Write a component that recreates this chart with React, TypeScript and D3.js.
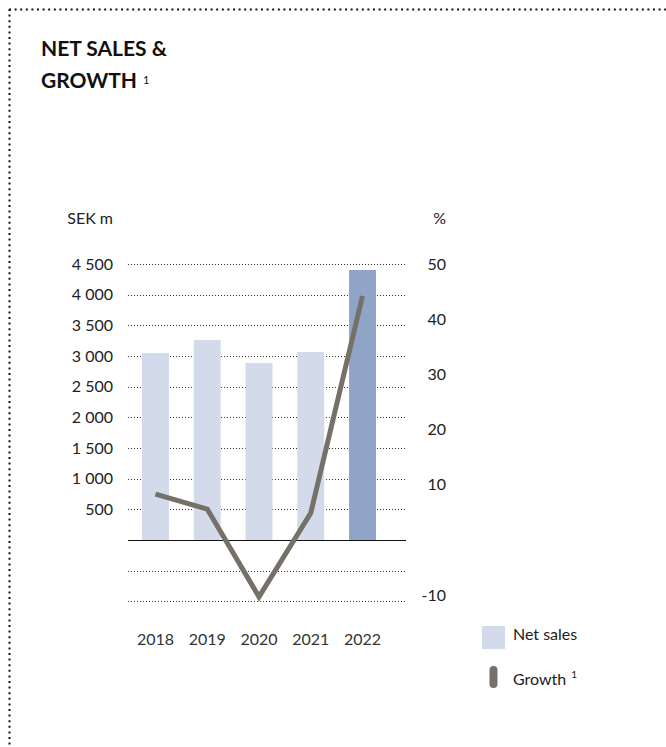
import React from "react";
import * as d3 from "d3";

const years = ["2018", "2019", "2020", "2021", "2022"];
const netSales = [3049, 3261, 2886, 3065, 4402];
const growth = [8.3, 5.6, -10.3, 4.9, 44.2];
const leftTicks = [500, 1000, 1500, 2000, 2500, 3000, 3500, 4000, 4500];
const gridValues = [-1000, -500, 500, 1000, 1500, 2000, 2500, 3000, 3500, 4000, 4500];
const rightTicks = [-10, 10, 20, 30, 40, 50];

const FONT = "Lato, 'Open Sans', sans-serif";

export default function App() {
  const W = 666, H = 747;
  const x0 = 128, x1 = 406;
  const yL = d3.scaleLinear().domain([0, 4500]).range([540, 264]);
  const yR = d3.scaleLinear().domain([0, 50]).range([540, 264]);
  const x = d3.scaleBand<string>().domain(years).range([129.6, 388.4]).paddingInner(0.48).paddingOuter(0.24);
  const fmt = (v: number) => d3.format(",")(v).replace(/,/g, " ");
  const line = d3.line<number>()
    .x((_, i) => (x(years[i]) as number) + x.bandwidth() / 2)
    .y((d) => yR(d));

  return (
    <svg width={W} height={H} style={{ position: "absolute", left: 0, top: 0 }} fontFamily={FONT}>
      <rect width={W} height={H} fill="#fff" />
      {/* dotted frame */}
      <line x1={9} y1={9.5} x2={W} y2={9.5} stroke="#111" strokeWidth={2} strokeDasharray="2 3.6" />
      <line x1={9.5} y1={9} x2={9.5} y2={H} stroke="#111" strokeWidth={2} strokeDasharray="2 3.6" />

      {/* title */}
      <text x={41} y={56} fontSize={21} fontWeight={700} fill="#111">NET SALES &amp;</text>
      <text x={41} y={88} fontSize={21} fontWeight={700} fill="#111">
        GROWTH<tspan dx={6} dy={-4.5} fontSize={11} fontWeight={400}>1</tspan>
      </text>

      {/* axis titles */}
      <text x={113} y={224} fontSize={16} textAnchor="end" fill="#222">SEK m</text>
      <text x={446} y={224} fontSize={16} textAnchor="end" fill="#222">%</text>

      {/* gridlines */}
      {gridValues.map((v) => (
        <line key={v} x1={x0} x2={x1} y1={Math.round(yL(v)) + 0.5} y2={Math.round(yL(v)) + 0.5}
          stroke="#333" strokeWidth={1} strokeDasharray="1 2" />
      ))}

      {/* left ticks */}
      {leftTicks.map((v) => (
        <text key={v} x={113} y={yL(v) + 5.5} fontSize={16} textAnchor="end" fill="#222">{fmt(v)}</text>
      ))}
      {/* right ticks */}
      {rightTicks.map((v) => (
        <text key={v} x={446} y={yR(v) + 5.5} fontSize={16} textAnchor="end" fill="#222">{v}</text>
      ))}

      {/* bars */}
      {netSales.map((v, i) => (
        <rect key={years[i]} x={x(years[i])} width={x.bandwidth()} y={yL(v)} height={yL(0) - yL(v)}
          fill={i === netSales.length - 1 ? "#8fa4c6" : "#d3dae9"} />
      ))}

      {/* zero axis */}
      <line x1={x0} x2={x1} y1={540.5} y2={540.5} stroke="#111" strokeWidth={1} />

      {/* growth line */}
      <path d={line(growth) || ""} fill="none" stroke="#757169" strokeWidth={5} strokeLinejoin="miter" />

      {/* x labels */}
      {years.map((yr) => (
        <text key={yr} x={(x(yr) as number) + x.bandwidth() / 2} y={645} fontSize={16} textAnchor="middle" fill="#333">{yr}</text>
      ))}

      {/* legend */}
      <rect x={482} y={626} width={23} height={23} fill="#d3dae9" />
      <text x={513} y={640} fontSize={16} fill="#222">Net sales</text>
      <line x1={493.5} x2={493.5} y1={670} y2={684} stroke="#757169" strokeWidth={8} strokeLinecap="round" />
      <text x={513} y={685} fontSize={16} fill="#222">
        Growth<tspan dx={5} dy={-7} fontSize={10}>1</tspan>
      </text>
    </svg>
  );
}
